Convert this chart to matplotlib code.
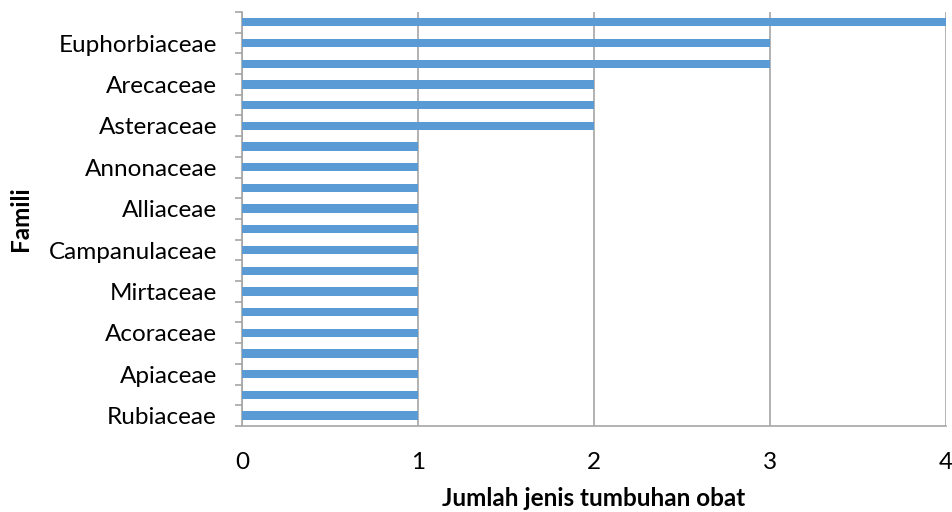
import numpy as np
import matplotlib.pyplot as plt
from matplotlib.ticker import FixedLocator

# categories from bottom to top; unlabeled rows in the source are left blank
families = ['Rubiaceae', '', 'Apiaceae', '', 'Acoraceae', '', 'Mirtaceae', '',
            'Campanulaceae', '', 'Alliaceae', '', 'Annonaceae', '', 'Asteraceae', '',
            'Arecaceae', '', 'Euphorbiaceae', '']
jumlah = [1, 1, 1, 1, 1, 1, 1, 1, 1, 1, 1, 1, 1, 1, 2, 2, 2, 3, 3, 4]
xticks = [0, 1, 2, 3, 4]

plt.rcParams['font.family'] = ['Lato', 'DejaVu Sans']

fig = plt.figure(figsize=(9.52, 5.12), dpi=100)
ax = fig.add_axes([0.2542, 0.168, 0.7395, 0.8086])

y = np.arange(len(families))
ax.barh(y, jumlah, height=0.4, color='#5B9BD5', zorder=3)

ax.set_xlim(0, 4)
ax.set_ylim(-0.5, len(families) - 0.5)
ax.set_xticks(xticks)
ax.set_xticklabels([str(t) for t in xticks], fontsize=17.5)
ax.set_yticks(y)
ax.set_yticklabels(families, fontsize=17.5)
ax.yaxis.set_minor_locator(FixedLocator(np.arange(-0.5, len(families), 1.0)))

grid_col = '#A6A6A6'
ax.grid(axis='x', color=grid_col, linewidth=1.2, zorder=0)
for side in ['top', 'right']:
    ax.spines[side].set_visible(False)
ax.spines['left'].set_color(grid_col)
ax.spines['bottom'].set_color(grid_col)
ax.spines['left'].set_linewidth(1.2)
ax.spines['bottom'].set_linewidth(1.2)

ax.tick_params(axis='y', which='major', length=0, pad=18)
ax.tick_params(axis='y', which='minor', length=5, width=1.2, color=grid_col)
ax.tick_params(axis='x', which='major', length=0, pad=19)

ax.set_xlabel('Jumlah jenis tumbuhan obat', fontsize=17.5, fontweight='bold', labelpad=10)
ax.set_ylabel('Famili', fontsize=17.5, fontweight='bold')
ax.yaxis.set_label_coords(-0.298, 0.5)

fig.savefig('out.png', dpi=100)
